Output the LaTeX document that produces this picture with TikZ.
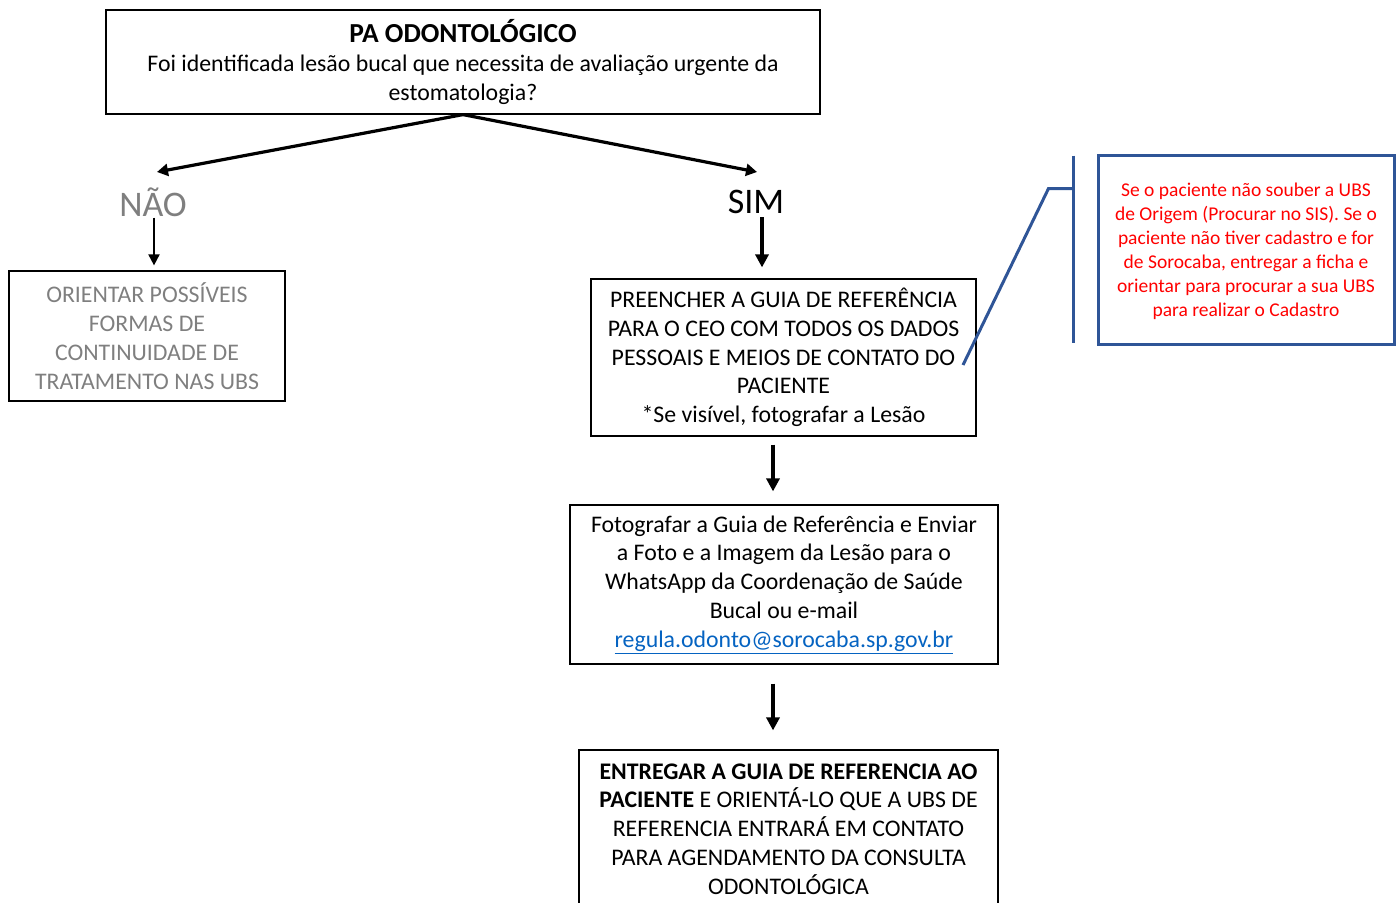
\documentclass[tikz,border=0pt]{standalone}
\usepackage{fontspec}
\setmainfont{Carlito}
\usetikzlibrary{arrows.meta,calc}
\definecolor{cgray}{HTML}{7F7F7F}
\definecolor{cblue}{HTML}{2F5597}
\definecolor{cred}{HTML}{FF0000}
\definecolor{clink}{HTML}{0563C1}
\begin{document}
\begin{tikzpicture}[x=1pt,y=-1pt,
  box/.style={draw=black, line width=1.2pt, inner sep=0pt, align=center, font=\fontsize{23.8}{28.8}\selectfont},
  answer/.style={inner sep=0pt, font=\fontsize{36}{40}\selectfont},
  diagarr/.style={line width=3.2pt, -{Triangle[length=11pt,width=12pt]}},
  thickarr/.style={line width=3.6pt, -{Triangle[length=13pt,width=13pt]}},
  thinarr/.style={line width=1.8pt, -{Triangle[length=11pt,width=11pt]}},
  callbox/.style={draw=cblue, line width=3pt, inner sep=0pt, align=center, text=cred, font=\fontsize{19.5}{24}\selectfont},
  callline/.style={draw=cblue, line width=3pt},
]
\useasboundingbox (0,0) rectangle (1399,902);
\node[box, minimum width=714, minimum height=104] (top) at (463,62)
  {{\fontsize{27.5}{29}\selectfont\bfseries PA ODONTOLÓGICO}\\Foi identificada lesão bucal que necessita de avaliação urgente da\\estomatologia?};
\node[answer, text=cgray] (nao) at (153,202) {NÃO};
\node[answer] (sim) at (756,202) {SIM};
\coordinate (naoTip) at (157,172);
\coordinate (simTip) at (757,172);
\node[box, text=cgray, minimum width=276, minimum height=130] (left) at (147,336)
  {ORIENTAR POSSÍVEIS\\FORMAS DE\\CONTINUIDADE DE\\TRATAMENTO NAS UBS};
\node[box, minimum width=385, minimum height=157] (mid) at (783.5,357.5)
  {PREENCHER A GUIA DE REFERÊNCIA\\PARA O CEO COM TODOS OS DADOS\\PESSOAIS E MEIOS DE CONTATO DO\\PACIENTE\\*Se visível, fotografar a Lesão};
\node[box, minimum width=428, minimum height=159] (foto) at (784,584.5)
  {Fotografar a Guia de Referência e Enviar\\a Foto e a Imagem da Lesão para o\\WhatsApp da Coordenação de Saúde\\Bucal ou e-mail\\\textcolor{clink}{\underline{regula.odonto@sorocaba.sp.gov.br}}};
\node[box, minimum width=419, minimum height=158] (entregar) at (788.5,829)
  {\textbf{ENTREGAR A GUIA DE REFERENCIA AO}\\\textbf{PACIENTE} E ORIENTÁ-LO QUE A UBS DE\\REFERENCIA ENTRARÁ EM CONTATO\\PARA AGENDAMENTO DA CONSULTA\\ODONTOLÓGICA};
\node[callbox, minimum width=296, minimum height=189] (call) at (1246,249.5)
  {\raisebox{-2pt}[\height][\depth]{\parbox{290pt}{\centering Se o paciente não souber a UBS\\de Origem (Procurar no SIS). Se o\\paciente não tiver cadastro e for\\de Sorocaba, entregar a ficha e\\orientar para procurar a sua UBS\\para realizar o Cadastro}}};
% connectors
\draw[diagarr] (top.south) -- (naoTip);
\draw[diagarr] (top.south) -- (simTip);
\draw[thinarr] ([xshift=1pt,yshift=-1pt]nao.south) -- ([xshift=1pt,yshift=5pt]nao.south |- left.north);
\draw[thickarr] ([xshift=6pt,yshift=-3pt]sim.south) -- ([xshift=6pt,yshift=11pt]sim.south |- mid.north);
\draw[thickarr] ([xshift=-10.5pt,yshift=-8pt]mid.south) -- ([xshift=-10.5pt,yshift=13pt]mid.south |- foto.north);
\draw[thickarr] ([xshift=-11pt,yshift=-19pt]foto.south) -- ([xshift=-11pt,yshift=19pt]foto.south |- entregar.north);
% callout leader
\coordinate (barTop) at ($(call.north west)+(-23,2)$);
\coordinate (barBot) at ($(call.south west)+(-23,-3)$);
\coordinate (elbow) at ($(call.north west)+(-48,35)$);
\coordinate (pointer) at (963,365);
\draw[callline] (barTop) -- (barBot);
\draw[callline] (barTop |- elbow) -- (elbow) -- (pointer);
\end{tikzpicture}
\end{document}
